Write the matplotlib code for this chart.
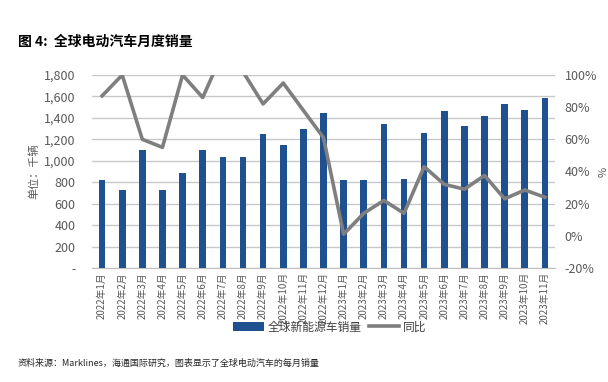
import matplotlib
matplotlib.use("Agg")
import matplotlib.pyplot as plt
import numpy as np
from matplotlib.ticker import FuncFormatter

plt.rcParams['font.family'] = ['Noto Sans CJK SC', 'DejaVu Sans']

months = ["2022年1月", "2022年2月", "2022年3月", "2022年4月", "2022年5月", "2022年6月",
          "2022年7月", "2022年8月", "2022年9月", "2022年10月", "2022年11月", "2022年12月",
          "2023年1月", "2023年2月", "2023年3月", "2023年4月", "2023年5月", "2023年6月",
          "2023年7月", "2023年8月", "2023年9月", "2023年10月", "2023年11月"]
sales = [820, 730, 1100, 730, 885, 1100, 1035, 1035, 1250, 1145, 1295, 1450,
         820, 820, 1340, 830, 1260, 1465, 1325, 1415, 1530, 1475, 1590]
yoy = [87, 100, 60, 55, 100, 86, 114, 102, 82, 95, 78, 61,
       1, 14, 22, 14, 43, 32, 29, 37.5, 23, 28.5, 24]

bar_color = "#1F5090"
line_color = "#7F7F7F"
grid_color = "#C8C8C8"
tick_color = "#595959"

fig = plt.figure(figsize=(6.08, 3.82), dpi=100)
ax = fig.add_axes([92 / 608, 1 - 268 / 382, 463 / 608, 193 / 382])
x = np.arange(len(months))

ax.bar(x, sales, width=0.33, color=bar_color, zorder=3, label="全球新能源车销量")
ax.set_ylim(0, 1800)
ax.set_yticks(np.arange(0, 1801, 200))
ax.yaxis.set_major_formatter(FuncFormatter(lambda v, p: "-" if v == 0 else f"{int(v):,}"))
ax.set_xlim(-0.5, len(months) - 0.5)
ax.set_xticks(x)
ax.set_xticklabels(months, rotation=90, fontsize=7, color=tick_color)
ax.grid(axis="y", color=grid_color, linewidth=1, zorder=0)
for s in ["top", "right", "left"]:
    ax.spines[s].set_visible(False)
ax.spines["bottom"].set_color("#BFBFBF")
ax.tick_params(axis="y", length=0, labelsize=9, labelcolor=tick_color, pad=12)
ax.tick_params(axis="x", length=0, pad=3)
ax.set_ylabel("单位：千辆", fontsize=8, color=tick_color, labelpad=3)

ax2 = ax.twinx()
ax2.plot(x, yoy, color=line_color, linewidth=2.6, zorder=4, label="同比")
ax2.set_ylim(-20, 100)
ax2.set_yticks(np.arange(-20, 101, 20))
ax2.yaxis.set_major_formatter(FuncFormatter(lambda v, p: f"{int(v)}%"))
for s in ["top", "right", "left", "bottom"]:
    ax2.spines[s].set_visible(False)
ax2.tick_params(axis="y", length=0, labelsize=9, labelcolor=tick_color, pad=7)
ax2.set_ylabel("%", fontsize=8, color=tick_color, labelpad=1)

h1, l1 = ax.get_legend_handles_labels()
h2, l2 = ax2.get_legend_handles_labels()
fig.legend(h1 + h2, l1 + l2, loc="center", bbox_to_anchor=(330 / 608, 1 - 327 / 382),
           ncol=2, frameon=False, fontsize=8.5, handlelength=2.6, columnspacing=0.6,
           handletextpad=0.3, labelcolor="#404040")

fig.text(18 / 608, 1 - 42 / 382, "图 4:  全球电动汽车月度销量", fontsize=10,
         fontweight="bold", va="center", ha="left")
fig.text(18 / 608, 1 - 363 / 382, "资料来源：Marklines，海通国际研究，图表显示了全球电动汽车的每月销量",
         fontsize=6.5, va="center", ha="left", color="#262626")

fig.savefig("out.png", dpi=100)
